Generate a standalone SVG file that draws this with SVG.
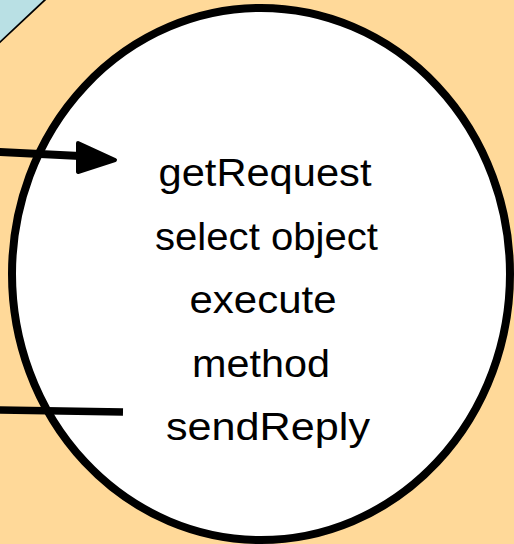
<svg xmlns="http://www.w3.org/2000/svg" width="514" height="544" viewBox="0 0 514 544">
  <defs>
    <style>
      .bg { fill: #FFD999; }
      .corner { fill: #B9E0E4; stroke: #000; stroke-width: 1.8; }
      .node { fill: #FFFFFF; stroke: #000; stroke-width: 8; }
      .label { font-family: "Liberation Sans", Arial, sans-serif; font-size: 39px; fill: #000; text-anchor: middle; }
      .wire { fill: none; stroke: #000; stroke-width: 8; stroke-linecap: butt; }
      .head { fill: #000; stroke: #000; stroke-width: 4; stroke-linejoin: round; }
    </style>
  </defs>

  <!-- backdrop -->
  <rect class="bg" x="0" y="0" width="514" height="544"/>
  <polygon class="corner" points="-2,-2 47,-2 -2,44"/>

  <!-- server object -->
  <g id="server">
    <ellipse class="node" cx="261" cy="274" rx="249" ry="266"/>
    <text class="label" x="265" y="186" textLength="213" lengthAdjust="spacingAndGlyphs">getRequest</text>
    <text class="label" x="266.5" y="249.5" textLength="223" lengthAdjust="spacingAndGlyphs">select object</text>
    <text class="label" x="263" y="313" textLength="147" lengthAdjust="spacingAndGlyphs">execute</text>
    <text class="label" x="261" y="376.5" textLength="138" lengthAdjust="spacingAndGlyphs">method</text>
    <text class="label" x="268" y="440" textLength="204" lengthAdjust="spacingAndGlyphs">sendReply</text>
  </g>

  <!-- request in, reply out -->
  <g id="connectors">
    <line class="wire" x1="-2" y1="152" x2="80" y2="156"/>
    <polygon class="head" points="78,143 115,160 78,172"/>
    <line class="wire" x1="-2" y1="410" x2="123" y2="412" style="stroke-width:7.5"/>
  </g>
</svg>
